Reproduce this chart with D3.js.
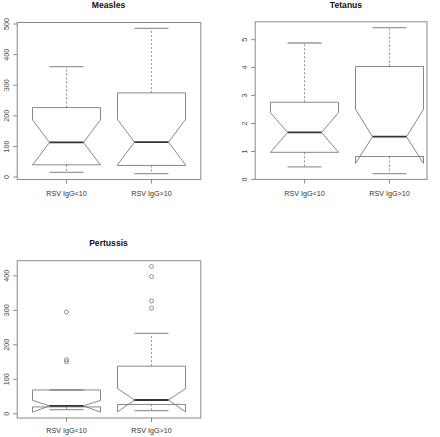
<!DOCTYPE html>
<html>
<head>
<meta charset="utf-8">
<script src="https://cdn.jsdelivr.net/npm/d3@7"></script>
<style>
  html, body { margin: 0; padding: 0; background: #fff; }
  svg { display: block; }
  text { font-family: "Liberation Sans", Arial, Helvetica, sans-serif; }
</style>
</head>
<body>
<svg id="chart" width="440" height="437"></svg>
<script>
// ---- Data ----
const groups = ["RSV IgG<10", "RSV IgG>10"];

// stats: [lower whisker, Q1, median, Q3, upper whisker]; conf: [lower notch, upper notch]
const measlesStats = [[15, 40, 113, 227, 361], [11, 38, 114, 275, 486]];
const measlesConf = [[39, 187], [40, 188]];
const measlesOut = [[], []];
const measlesTicks = [0, 100, 200, 300, 400, 500];

const tetanusStats = [[0.45, 0.97, 1.68, 2.76, 4.88], [0.21, 0.82, 1.53, 4.04, 5.43]];
const tetanusConf = [[0.97, 2.39], [0.57, 2.51]];
const tetanusOut = [[], []];
const tetanusTicks = [0, 1, 2, 3, 4, 5];

const pertussisStats = [[12, 20, 23, 69, 69], [9, 27, 40, 138, 233]];
const pertussisConf = [[4.7, 39], [5.5, 73]];
const pertussisOut = [[295, 157, 151], [427, 398, 327, 306]];
const pertussisTicks = [0, 100, 200, 300, 400];

// ---- Layout ----
const panels = [
  { title: "Measles", stats: measlesStats, conf: measlesConf, out: measlesOut, ticks: measlesTicks,
    x0: 17.2, x1: 200.8, frameRight: 200.8, yTop: 22.5, yBot: 179.5, titleY: 7.6, labelY: 196 },
  { title: "Tetanus", stats: tetanusStats, conf: tetanusConf, out: tetanusOut, ticks: tetanusTicks,
    x0: 255.2, x1: 438.8, frameRight: 427, yTop: 21.8, yBot: 179.4, titleY: 7.6, labelY: 196 },
  { title: "Pertussis", stats: pertussisStats, conf: pertussisConf, out: pertussisOut, ticks: pertussisTicks,
    x0: 17.2, x1: 200.8, frameRight: 200.8, yTop: 260.7, yBot: 418, titleY: 245.6, labelY: 433 }
];

const svg = d3.select("#chart");

panels.forEach(p => {
  const g = svg.append("g");
  const all = [];
  p.stats.forEach(s => all.push(...s));
  p.conf.forEach(c => all.push(...c));
  p.out.forEach(o => all.push(...o));
  const [mn, mx] = d3.extent(all);
  const pad = (mx - mn) * 0.04;
  const y = d3.scaleLinear().domain([mn - pad, mx + pad]).range([p.yBot, p.yTop]);
  const x = d3.scaleLinear().domain([0.42, 2.58]).range([p.x0, p.x1]);
  const halfW = x(1.4) - x(1);   // box half-width (0.4 units)
  const nf = 0.5;

  // frame
  g.append("rect")
    .attr("x", p.x0).attr("y", p.yTop)
    .attr("width", p.frameRight - p.x0).attr("height", p.yBot - p.yTop)
    .attr("fill", "none").attr("stroke", "#8a8a8a").attr("stroke-width", 1);

  // title
  g.append("text")
    .attr("x", (p.x0 + p.x1) / 2 - 0.5 + (p.title === "Tetanus" ? -0.5 : 0))
    .attr("y", p.titleY)
    .attr("text-anchor", "middle")
    .attr("font-size", 8.6).attr("font-weight", "bold").attr("fill", "#111")
    .text(p.title);

  // y axis ticks
  p.ticks.forEach(t => {
    g.append("line")
      .attr("x1", p.x0 - 4).attr("x2", p.x0)
      .attr("y1", y(t)).attr("y2", y(t))
      .attr("stroke", "#8a8a8a").attr("stroke-width", 1);
    g.append("text")
      .attr("transform", `translate(${p.x0 - 8.5},${y(t)}) rotate(-90)`)
      .attr("text-anchor", "middle")
      .attr("font-size", 7.2).attr("fill", "#444")
      .text(t);
  });

  // x axis ticks & labels
  groups.forEach((lab, i) => {
    const cx = x(i + 1);
    g.append("line")
      .attr("x1", cx).attr("x2", cx)
      .attr("y1", p.yBot).attr("y2", p.yBot + 4)
      .attr("stroke", "#8a8a8a").attr("stroke-width", 1);
    g.append("text")
      .attr("x", cx).attr("y", p.labelY)
      .attr("text-anchor", "middle")
      .attr("font-size", 7.2).attr("fill", "#333")
      .text(lab);
  });

  // boxes
  p.stats.forEach((s, i) => {
    const cx = x(i + 1);
    const [lw, q1, med, q3, uw] = s;
    const [nl, nu] = p.conf[i];

    // whiskers (dashed)
    g.append("line")
      .attr("x1", cx).attr("x2", cx).attr("y1", y(q3)).attr("y2", y(uw))
      .attr("stroke", "#888").attr("stroke-width", 0.9).attr("stroke-dasharray", "2,2");
    g.append("line")
      .attr("x1", cx).attr("x2", cx).attr("y1", y(q1)).attr("y2", y(lw))
      .attr("stroke", "#888").attr("stroke-width", 0.9).attr("stroke-dasharray", "2,2");

    // caps
    [lw, uw].forEach(v => {
      g.append("line")
        .attr("x1", cx - halfW * 0.5).attr("x2", cx + halfW * 0.5)
        .attr("y1", y(v)).attr("y2", y(v))
        .attr("stroke", "#999").attr("stroke-width", 1.3);
    });

    // notched box polygon (R bxp order)
    const xs = [-1, 1, 1, nf, 1, 1, -1, -1, -nf, -1].map(k => cx + halfW * k);
    const ys = [q1, q1, nl, med, nu, q3, q3, nu, med, nl].map(v => y(v));
    const pts = xs.map((xx, k) => [xx, ys[k]]);
    g.append("path")
      .attr("d", d3.line()(pts) + "Z")
      .attr("fill", "none").attr("stroke", "#7a7a7a").attr("stroke-width", 0.9);

    // median
    g.append("line")
      .attr("x1", cx - halfW * nf).attr("x2", cx + halfW * nf)
      .attr("y1", y(med)).attr("y2", y(med))
      .attr("stroke", "#333").attr("stroke-width", 1.8);

    // outliers
    p.out[i].forEach(v => {
      g.append("circle")
        .attr("cx", cx).attr("cy", y(v)).attr("r", 2)
        .attr("fill", "none").attr("stroke", "#777").attr("stroke-width", 0.8);
    });
  });
});
</script>
</body>
</html>
